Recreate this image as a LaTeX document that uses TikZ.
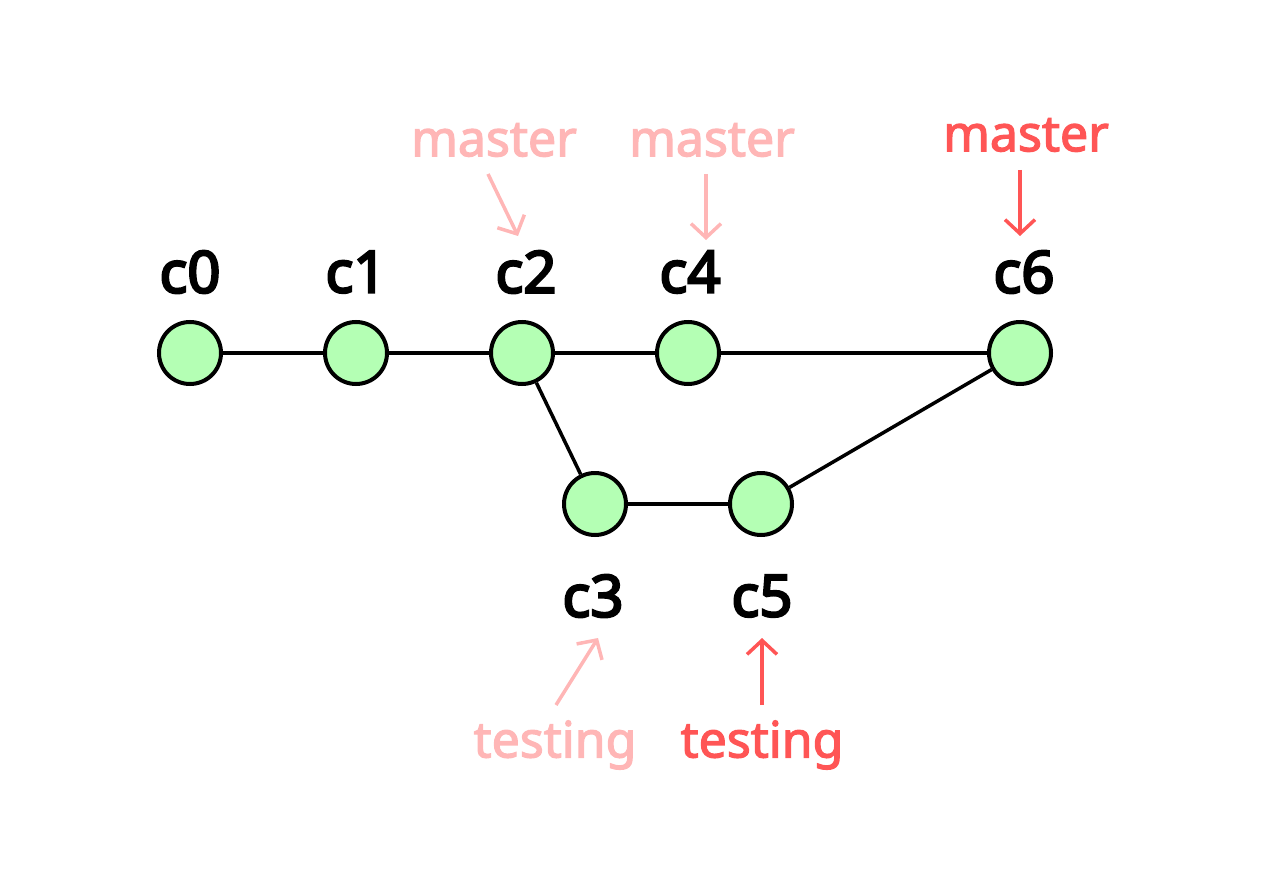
\documentclass[tikz,border=0pt]{standalone}
\usepackage{fontspec}
\setmainfont{Noto Sans}
\newfontfamily\medfont[FakeBold=4]{Noto Sans}
\newfontfamily\lightmed[FakeBold=2.5]{Noto Sans}
\usetikzlibrary{arrows.meta}
\definecolor{cfill}{HTML}{B4FFB4}
\definecolor{pale}{HTML}{FFB6B6}
\definecolor{strong}{HTML}{FF5555}
\tikzset{
  commit/.style={circle, draw=black, line width=4pt, fill=cfill, minimum size=62pt, inner sep=0pt},
  edge/.style={draw=black, line width=3.5pt},
  clabel/.style={font=\medfont\fontsize{58}{60}\selectfont, text=black, inner sep=0pt},
  blabel/.style={font=\lightmed\fontsize{50}{52}\selectfont, inner sep=0pt},
  ptr/.style={line width=3.5pt, -{Straight Barb[length=14pt,width=30pt,line width=3.5pt]}}
}
\begin{document}
\begin{tikzpicture}[x=1pt,y=-1pt]
\useasboundingbox (0,0) rectangle (1265,869);
\node[commit] (c0) at (190,353) {};
\node[commit] (c1) at (356,353) {};
\node[commit] (c2) at (522,353) {};
\node[commit] (c4) at (688,353) {};
\node[commit] (c6) at (1020,353) {};
\node[commit] (c3) at (595,504) {};
\node[commit] (c5) at (761,504) {};
\draw[edge] (c0) -- (c1);
\draw[edge] (c1) -- (c2);
\draw[edge] (c2) -- (c4);
\draw[edge] (c4) -- (c6);
\draw[edge] (c2) -- (c3);
\draw[edge] (c3) -- (c5);
\draw[edge] (c5) -- (c6);
\node[clabel] (l0) at (190,272) {c0};
\node[clabel] (l1) at (356,272) {c1};
\node[clabel] (l2) at (526,272) {c2};
\node[clabel] (l4) at (690,272) {c4};
\node[clabel] (l6) at (1024,272) {c6};
\node[clabel] (l3) at (593,596) {c3};
\node[clabel] (l5) at (762,596) {c5};
\node[blabel, text=pale] (m1) at (494,140) {master};
\node[blabel, text=pale] (m2) at (712,140) {master};
\node[blabel, text=strong] (m3) at (1026,135) {master};
\node[blabel, text=pale] (t1) at (555,745) {testing};
\node[blabel, text=strong] (t2) at (762,745) {testing};
\coordinate (a1s) at (488,174); \coordinate (a1e) at (518,236);
\coordinate (a2s) at (706,174); \coordinate (a2e) at (706,240);
\coordinate (a3s) at (1020,170); \coordinate (a3e) at (1020,236);
\coordinate (a4s) at (556,705); \coordinate (a4e) at (598,638);
\coordinate (a5s) at (762,705); \coordinate (a5e) at (762,638);
\draw[ptr, pale] (a1s) -- (a1e);
\draw[ptr, pale] (a2s) -- (a2e);
\draw[ptr, strong] (a3s) -- (a3e);
\draw[ptr, pale] (a4s) -- (a4e);
\draw[ptr, strong] (a5s) -- (a5e);
\end{tikzpicture}
\end{document}
